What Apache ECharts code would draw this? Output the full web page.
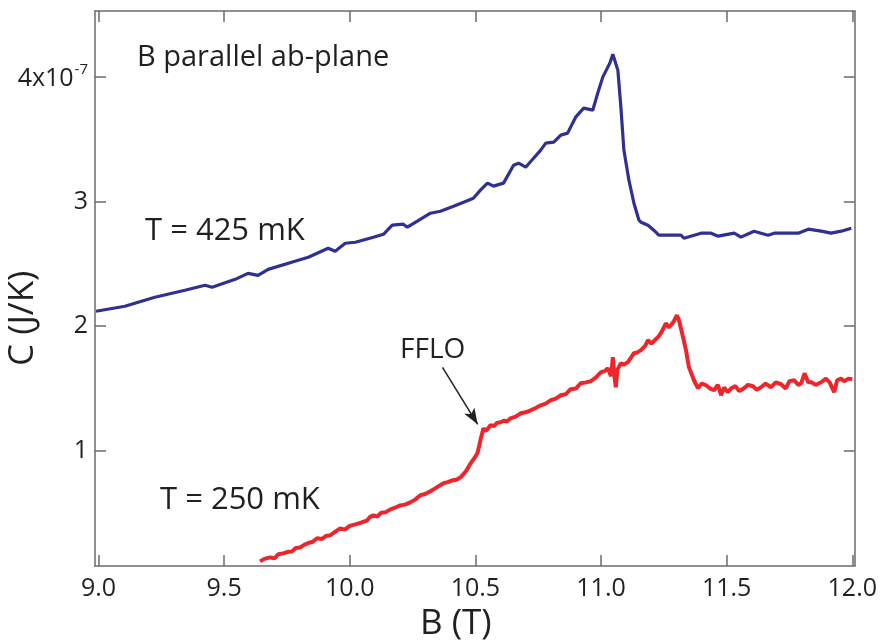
<!DOCTYPE html>
<html>
<head>
<meta charset="utf-8">
<script src="https://cdn.jsdelivr.net/npm/echarts@6/dist/echarts.min.js"></script>
<style>
html,body{margin:0;padding:0;background:#fff;}
#chart{width:880px;height:644px;}
</style>
</head>
<body>
<div id="chart"></div>
<script>
// Field B (T) and heat capacity C (units of 1e-7 J/K)
const blueB = [8.99,9.105,9.224,9.344,9.424,9.452,9.544,9.595,9.635,9.675,9.795,9.835,9.914,9.942,9.982,10.022,10.094,10.134,10.169,10.213,10.229,10.269,10.321,10.361,10.413,10.453,10.492,10.520,10.548,10.572,10.612,10.652,10.672,10.700,10.728,10.760,10.780,10.812,10.840,10.867,10.899,10.931,10.967,10.987,11.007,11.035,11.047,11.067,11.079,11.091,11.111,11.131,11.151,11.159,11.187,11.210,11.230,11.318,11.330,11.398,11.438,11.466,11.530,11.557,11.609,11.665,11.689,11.785,11.825,11.876,11.916,11.956,11.996];
const blueC = [2.12,2.16,2.232,2.288,2.328,2.312,2.376,2.424,2.408,2.456,2.529,2.553,2.625,2.601,2.665,2.673,2.713,2.737,2.810,2.818,2.794,2.842,2.906,2.922,2.962,2.994,3.026,3.091,3.147,3.123,3.147,3.291,3.307,3.275,3.339,3.412,3.468,3.476,3.532,3.548,3.676,3.748,3.732,3.869,3.997,4.109,4.181,4.053,3.756,3.412,3.171,2.986,2.850,2.834,2.810,2.770,2.730,2.730,2.706,2.746,2.746,2.722,2.746,2.714,2.762,2.730,2.746,2.746,2.778,2.762,2.746,2.762,2.786];

const redB = [9.643,9.66,9.683,9.70,9.715,9.735,9.75,9.77,9.785,9.803,9.82,9.835,9.85,9.870,9.89,9.905,9.922,9.94,9.962,9.98,10.0,10.022,10.045,10.070,10.08,10.094,10.11,10.125,10.142,10.16,10.18,10.201,10.22,10.241,10.26,10.281,10.30,10.321,10.34,10.355,10.373,10.39,10.409,10.425,10.441,10.455,10.465,10.481,10.495,10.508,10.515,10.520,10.532,10.54,10.548,10.560,10.575,10.585,10.600,10.615,10.625,10.640,10.66,10.680,10.70,10.720,10.74,10.760,10.78,10.800,10.82,10.840,10.86,10.879,10.90,10.919,10.94,10.959,10.98,10.999,11.015,11.027,11.04,11.047,11.053,11.059,11.065,11.079,11.09,11.107,11.12,11.131,11.145,11.159,11.175,11.187,11.20,11.218,11.23,11.238,11.25,11.258,11.27,11.278,11.29,11.302,11.31,11.318,11.328,11.338,11.350,11.36,11.370,11.386,11.40,11.418,11.435,11.450,11.465,11.478,11.49,11.505,11.518,11.535,11.55,11.569,11.585,11.605,11.62,11.637,11.655,11.677,11.695,11.717,11.735,11.75,11.769,11.785,11.797,11.81,11.825,11.837,11.855,11.876,11.895,11.91,11.928,11.94,11.955,11.968,11.985,12.0];
const redC = [0.115,0.135,0.147,0.14,0.172,0.179,0.19,0.195,0.222,0.227,0.25,0.262,0.27,0.300,0.295,0.318,0.324,0.35,0.380,0.37,0.40,0.412,0.425,0.444,0.47,0.484,0.475,0.505,0.508,0.53,0.545,0.564,0.57,0.588,0.61,0.645,0.655,0.677,0.70,0.72,0.741,0.75,0.765,0.77,0.789,0.82,0.845,0.901,0.94,0.982,1.04,1.086,1.182,1.16,1.174,1.206,1.20,1.225,1.230,1.245,1.235,1.262,1.275,1.302,1.31,1.326,1.345,1.366,1.38,1.407,1.42,1.447,1.455,1.495,1.50,1.543,1.55,1.559,1.59,1.631,1.64,1.663,1.60,1.752,1.60,1.511,1.65,1.704,1.69,1.712,1.75,1.784,1.79,1.808,1.84,1.888,1.86,1.896,1.92,1.944,1.99,2.024,1.99,2.008,2.04,2.088,2.05,1.984,1.90,1.808,1.671,1.62,1.567,1.503,1.54,1.527,1.50,1.487,1.53,1.447,1.51,1.47,1.503,1.52,1.48,1.503,1.53,1.519,1.49,1.511,1.54,1.511,1.55,1.535,1.50,1.56,1.567,1.53,1.543,1.623,1.55,1.551,1.53,1.551,1.58,1.55,1.471,1.567,1.58,1.559,1.58,1.575];

const xTicks = [9.0,9.5,10.0,10.5,11.0,11.5,12.0];
const yTicks = [1,2,3,4];
const arrowFrom = [10.369,1.671];
const arrowTo = [10.509,1.214];

const FONT = 'Open Sans';
const TXT = '#231f20';
const AX = '#6b6b6b';

const chart = echarts.init(document.getElementById('chart'), null, {renderer:'canvas'});
const pairs = (a,b) => a.map((v,i)=>[v,b[i]]);

const xBase = {
  type:'value', min:8.986, max:12.01,
  axisLine:{show:true, onZero:false, lineStyle:{color:AX, width:1.5}},
  axisTick:{show:true, inside:true, length:11, customValues:xTicks, lineStyle:{color:AX, width:1.5}},
  splitLine:{show:false}
};
const yBase = {
  type:'value', min:0.078, max:4.527,
  axisLine:{show:true, onZero:false, lineStyle:{color:AX, width:1.5}},
  axisTick:{show:true, inside:true, length:11, customValues:yTicks, lineStyle:{color:AX, width:1.5}},
  splitLine:{show:false}
};

chart.setOption({
  animation:false,
  backgroundColor:'#fff',
  grid:{left:95, right:25, top:11, bottom:78, containLabel:false},
  xAxis:[
    Object.assign({}, xBase, {position:'bottom',
      axisLabel:{show:true, customValues:xTicks, margin:10, fontSize:25, fontFamily:FONT, color:TXT,
        formatter:v=>v.toFixed(1)}}),
    Object.assign({}, xBase, {position:'top', axisLabel:{show:false}})
  ],
  yAxis:[
    Object.assign({}, yBase, {position:'left',
      axisLabel:{show:true, customValues:yTicks, margin:7, fontFamily:FONT, color:TXT,
        formatter:v=> v===4 ? '{a|4x10}{s|-7}' : '{a|'+v+'}',
        rich:{a:{fontSize:25, fontFamily:FONT, color:TXT, verticalAlign:'bottom'},
              s:{fontSize:15, fontFamily:FONT, color:TXT, verticalAlign:'bottom', padding:[0,0,14,1]}}}}),
    Object.assign({}, yBase, {position:'right', axisLabel:{show:false}})
  ],
  series:[
    {type:'line', name:'425 mK', data:pairs(blueB,blueC), showSymbol:false, symbol:'none',
     lineStyle:{color:'#2e3192', width:3.2}, xAxisIndex:0, yAxisIndex:0, z:3},
    {type:'line', name:'250 mK', data:pairs(redB,redC), showSymbol:false, symbol:'none',
     lineStyle:{color:'#ec262b', width:4}, xAxisIndex:0, yAxisIndex:0, z:3,
     markLine:{silent:true, symbol:['none','arrow'], symbolSize:[9,16], animation:false,
       label:{show:false}, lineStyle:{color:'#231f20', width:1.5, type:'solid'},
       data:[[{coord:arrowFrom},{coord:arrowTo}]]}}
  ],
  graphic:[
    {type:'text', left:137, top:43, style:{text:'B parallel ab-plane', font:'29px "'+FONT+'"', fill:TXT}},
    {type:'text', left:145, top:216, style:{text:'T = 425 mK', font:'31px "'+FONT+'"', fill:TXT}},
    {type:'text', left:160, top:485, style:{text:'T = 250 mK', font:'31px "'+FONT+'"', fill:TXT}},
    {type:'text', left:400, top:336, style:{text:'FFLO', font:'28px "'+FONT+'"', fill:TXT}},
    {type:'text', left:420, top:607, style:{text:'B (T)', font:'35px "'+FONT+'"', fill:TXT}},
    {type:'text', x:6, y:366, rotation:Math.PI/2, style:{text:'C (J/K)', font:'35px "'+FONT+'"', fill:TXT, textVerticalAlign:'top'}}
  ]
});
</script>
</body>
</html>
